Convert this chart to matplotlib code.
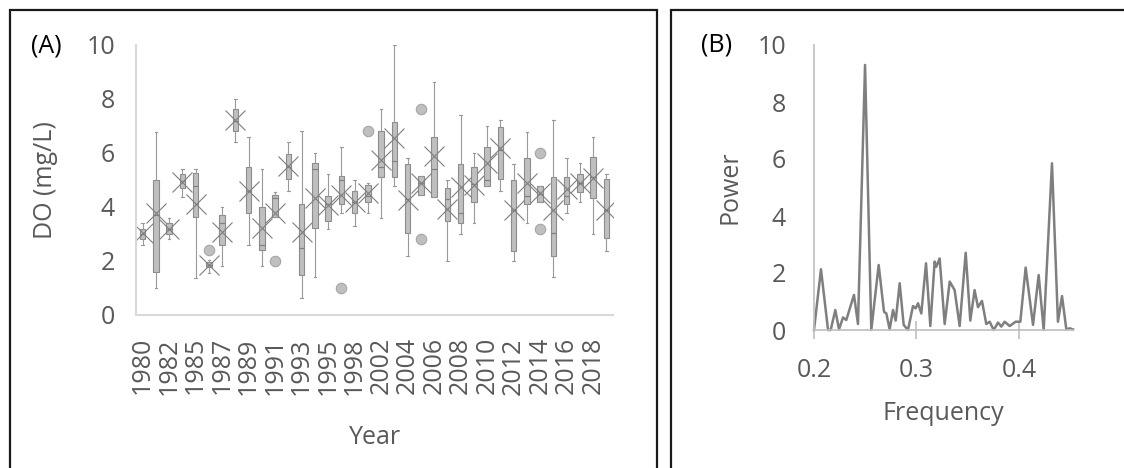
import matplotlib
matplotlib.use("Agg")
import matplotlib.pyplot as plt
from matplotlib.patches import Rectangle

plt.rcParams['font.family'] = ['Open Sans', 'DejaVu Sans']

# ---- panel A data: DO box plots per year ----
years = [1980, 1981, 1982, 1984, 1985, 1986, 1987, 1988, 1989, 1990,
         1991, 1992, 1993, 1994, 1995, 1997, 1998, 2000, 2002, 2003,
         2004, 2005, 2006, 2007, 2008, 2009, 2010, 2011, 2012, 2013,
         2014, 2015, 2016, 2017, 2018, 2019]
whislo = [2.59, 1.01, 2.80, 4.38, 1.36, 1.57, 1.81, 6.42, 2.59, 1.81,
          3.64, 4.59, 0.62, 1.40, 3.19, 3.77, 3.30, 3.79, 3.58, 4.79,
          2.19, 4.44, 4.38, 2.00, 3.00, 3.40, 4.79, 4.59, 2.00, 3.40,
          4.20, 1.40, 3.79, 4.20, 3.00, 2.38]
q1 = [2.80, 1.58, 3.00, 4.69, 3.64, 1.77, 2.59, 6.81, 3.79, 2.41,
      3.64, 5.04, 1.48, 3.21, 3.49, 4.11, 3.77, 4.20, 5.10, 5.10,
      3.02, 4.44, 4.38, 3.49, 3.40, 4.20, 4.79, 5.02, 2.38, 4.11,
      4.20, 2.19, 4.11, 4.54, 4.35, 2.84]
med = [3.00, 3.70, 3.20, 4.95, 4.79, 1.85, 3.40, 7.20, 4.60, 2.59,
       4.32, 5.50, 2.50, 5.40, 4.10, 5.00, 4.20, 4.42, 5.49, 5.72,
       4.30, 4.90, 5.39, 4.28, 3.79, 4.85, 5.00, 6.10, 3.90, 4.42,
       4.50, 3.02, 4.42, 4.90, 5.12, 3.90]
q3 = [3.18, 5.00, 3.40, 5.22, 5.25, 1.95, 3.70, 7.62, 5.47, 4.01,
      4.44, 5.96, 4.11, 5.62, 4.41, 5.16, 4.59, 4.81, 6.81, 7.16,
      5.59, 5.16, 6.60, 4.69, 5.59, 5.49, 6.21, 6.98, 5.00, 5.83,
      4.78, 5.10, 5.10, 5.22, 5.84, 5.02]
whishi = [3.40, 6.79, 3.58, 5.39, 5.40, 2.04, 3.99, 7.99, 6.60, 5.39,
          4.57, 6.42, 6.81, 5.99, 5.22, 6.21, 5.00, 4.90, 7.62, 10.0,
          5.80, 5.16, 8.62, 5.00, 7.41, 5.99, 7.00, 7.22, 5.59, 6.79,
          4.78, 7.22, 5.80, 5.62, 6.60, 5.22]
means = [3.02, 3.77, 3.19, 4.94, 4.11, 1.85, 3.09, 7.22, 4.60, 3.21,
         3.79, 5.52, 3.09, 4.32, 4.07, 4.44, 4.20, 4.51, 5.74, 6.54,
         4.26, 4.90, 5.89, 3.91, 4.75, 4.81, 5.62, 6.17, 3.89, 4.90,
         4.51, 3.89, 4.66, 4.90, 5.06, 3.89]
outliers = {5: [2.41], 10: [2.01], 15: [0.99], 17: [6.83],
            21: [7.62, 2.80], 30: [6.01, 3.19]}

# ---- panel B data: periodogram ----
freq = [0.2000, 0.2068, 0.2137, 0.2163, 0.2208, 0.2244, 0.2283, 0.2315,
        0.2390, 0.2429, 0.2498, 0.2559, 0.2631, 0.2683, 0.2706, 0.2738,
        0.2771, 0.2797, 0.2836, 0.2875, 0.2917, 0.2966, 0.2992, 0.3015,
        0.3047, 0.3093, 0.3135, 0.3177, 0.3193, 0.3226, 0.3275, 0.3324,
        0.3372, 0.3421, 0.3480, 0.3525, 0.3567, 0.3600, 0.3639, 0.3681,
        0.3714, 0.3753, 0.3795, 0.3828, 0.3860, 0.3909, 0.3967, 0.4013,
        0.4065, 0.4137, 0.4192, 0.4241, 0.4322, 0.4380, 0.4420, 0.4462,
        0.4494, 0.4527]
power = [0.00, 2.13, 0.00, 0.00, 0.70, 0.02, 0.44, 0.35,
         1.23, 0.21, 9.30, 0.00, 2.28, 0.64, 0.58, 0.02,
         0.70, 0.33, 1.64, 0.18, 0.00, 0.84, 0.76, 0.94,
         0.58, 2.34, 0.14, 2.40, 2.22, 2.51, 0.21, 1.70,
         1.40, 0.14, 2.71, 0.33, 1.40, 0.80, 1.02, 0.21,
         0.29, 0.00, 0.26, 0.12, 0.29, 0.14, 0.29, 0.29,
         2.19, 0.18, 1.93, 0.00, 5.85, 0.29, 1.19, 0.02,
         0.06, 0.02]

W, H = 1124, 468
fig = plt.figure(figsize=(W / 100, H / 100), dpi=100)

def fx(px):
    return px / W

def fy(py):
    return 1 - py / H

grey_txt = '#595959'

# panel frames
fig.add_artist(Rectangle((fx(10), -0.2), fx(657) - fx(10), fy(10) + 0.2,
                         transform=fig.transFigure, fill=False,
                         edgecolor='#1a1a1a', lw=1.6, clip_on=False))
fig.add_artist(Rectangle((fx(671), -0.2), 0.5, fy(10) + 0.2,
                         transform=fig.transFigure, fill=False,
                         edgecolor='#1a1a1a', lw=1.6, clip_on=False))

# ---- panel A ----
ax = fig.add_axes([fx(136), fy(315), fx(613) - fx(136), fy(45) - fy(315)])
stats = []
for i in range(len(years)):
    stats.append(dict(whislo=whislo[i], q1=q1[i], med=med[i], q3=q3[i],
                      whishi=whishi[i], mean=means[i],
                      fliers=outliers.get(i, [])))
pos = list(range(len(years)))
ax.bxp(stats, positions=pos, widths=0.43, patch_artist=True,
       showmeans=True, capwidths=0.18, manage_ticks=False,
       boxprops=dict(facecolor='#bfbfbf', edgecolor='#8c8c8c', lw=0.8),
       whiskerprops=dict(color='#999999', lw=0.8),
       capprops=dict(color='#999999', lw=0.8),
       medianprops=dict(color='#808080', lw=0.9),
       meanprops=dict(marker='x', markersize=14, markeredgecolor='#7f7f7f',
                      markeredgewidth=0.8, markerfacecolor='none'),
       flierprops=dict(marker='o', markersize=7.5, markerfacecolor='#bfbfbf',
                       markeredgecolor='#a6a6a6', markeredgewidth=0.8))
ax.set_xlim(-0.5, len(years) - 0.5)
ax.set_ylim(0, 10)
ax.set_yticks(range(0, 11, 2))
ax.set_xticks(pos[::2])
ax.set_xticklabels([str(y) for y in years[::2]], rotation=90)
ax.tick_params(axis='both', length=0, labelsize=18, labelcolor=grey_txt)
ax.tick_params(axis='y', pad=15)
ax.tick_params(axis='x', pad=16)
for s in ['top', 'right']:
    ax.spines[s].set_visible(False)
for s in ['left', 'bottom']:
    ax.spines[s].set_color('#d9d9d9')
    ax.spines[s].set_linewidth(1.5)

fig.text(fx(45), fy(180), 'DO (mg/L)', rotation=90, ha='center', va='center',
         fontsize=18, color=grey_txt)
fig.text(fx(375), fy(437), 'Year', ha='center', va='center',
         fontsize=18, color=grey_txt)
fig.text(fx(46), fy(46), '(A)', ha='center', va='center', fontsize=18,
         color='black')

# ---- panel B ----
ax2 = fig.add_axes([fx(814), fy(330), fx(1073) - fx(814), fy(45) - fy(330)])
ax2.plot(freq, power, color='#7f7f7f', lw=1.8, clip_on=False)
ax2.set_xlim(0.2, 0.4527)
ax2.set_ylim(0, 10)
ax2.set_yticks(range(0, 11, 2))
ax2.set_xticks([0.2, 0.3, 0.4])
ax2.set_xticklabels(['0.2', '0.3', '0.4'])
ax2.tick_params(axis='y', length=0, pad=20, labelsize=18, labelcolor=grey_txt)
ax2.tick_params(axis='x', direction='inout', length=13, width=1.2,
                color='#bfbfbf', pad=14, labelsize=18, labelcolor=grey_txt)
for s in ['top', 'right']:
    ax2.spines[s].set_visible(False)
for s in ['left', 'bottom']:
    ax2.spines[s].set_color('#bfbfbf')
    ax2.spines[s].set_linewidth(1.2)

fig.text(fx(730), fy(187), 'Power', rotation=90, ha='center', va='center',
         fontsize=18, color=grey_txt)
fig.text(fx(943), fy(413), 'Frequency', ha='center', va='center',
         fontsize=18, color=grey_txt)
fig.text(fx(717), fy(45), '(B)', ha='center', va='center', fontsize=18,
         color='black')

fig.savefig('out.png', dpi=100)
